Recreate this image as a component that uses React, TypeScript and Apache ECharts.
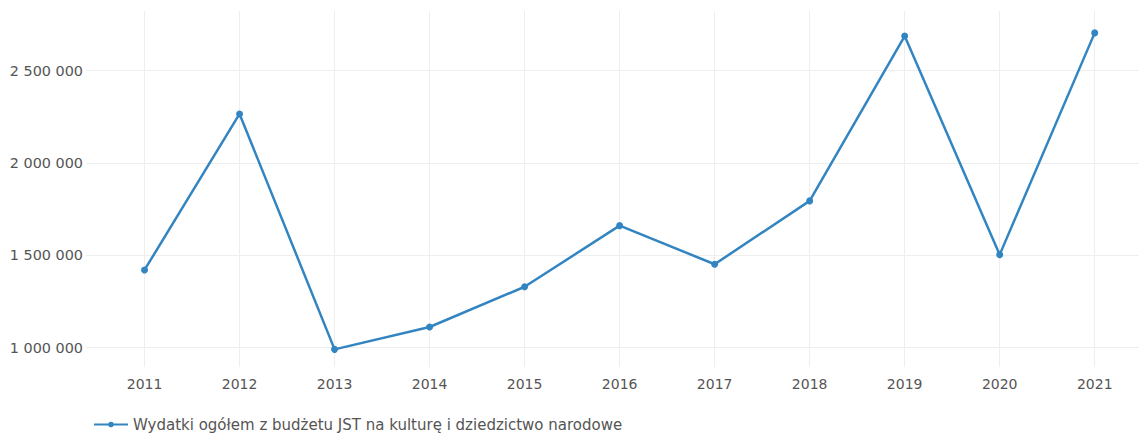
import React, { useEffect, useRef } from 'react';
import * as echarts from 'echarts';

const years = [2011, 2012, 2013, 2014, 2015, 2016, 2017, 2018, 2019, 2020, 2021];
const values = [1420000, 2265000, 990000, 1111000, 1329000, 1660000, 1451000, 1794000, 2687000, 1503000, 2704000];
const seriesName = 'Wydatki ogółem z budżetu JST na kulturę i dziedzictwo narodowe';

const fmt = (v: number) => String(Math.round(v)).replace(/\B(?=(\d{3})+(?!\d))/g, ' ');

export default function App() {
  const ref = useRef<HTMLDivElement>(null);
  useEffect(() => {
    document.body.style.margin = '0';
    const chart = echarts.init(ref.current!, null, { renderer: 'svg' });
    const font = 'Verdana, "DejaVu Sans", sans-serif';
    chart.setOption({
      animation: false,
      textStyle: { fontFamily: font },
      grid: { left: 86, right: 0, top: 11, bottom: 68 },
      legend: {
        left: 88,
        top: 412,
        itemWidth: 34,
        itemHeight: 7,
        itemGap: 10,
        textStyle: { fontSize: 15, color: '#555', fontFamily: font },
        data: [seriesName],
      },
      xAxis: {
        type: 'value',
        min: 2010.384,
        max: 2021.466,
        minInterval: 1,
        maxInterval: 1,
        axisLine: { show: false },
        axisTick: { show: false },
        splitLine: { show: true, showMinLine: false, showMaxLine: false, lineStyle: { color: '#eeeeee', width: 1 } },
        axisLabel: {
          showMinLabel: false,
          showMaxLabel: false,
          formatter: (v: number) => String(v),
          margin: 10,
          fontSize: 14,
          color: '#555',
          fontFamily: font,
        },
      },
      yAxis: {
        type: 'value',
        min: 894400,
        max: 2822500,
        minInterval: 500000,
        maxInterval: 500000,
        axisLine: { show: false },
        axisTick: { show: false },
        splitLine: { show: true, showMinLine: false, showMaxLine: false, lineStyle: { color: '#eeeeee', width: 1 } },
        axisLabel: {
          showMinLabel: false,
          showMaxLabel: false,
          formatter: (v: number) => fmt(v),
          margin: 3,
          fontSize: 14.4,
          color: '#555',
          fontFamily: font,
        },
      },
      series: [
        {
          name: seriesName,
          type: 'line',
          data: years.map((y, i) => [y, values[i]]),
          symbol: 'circle',
          symbolSize: 7,
          itemStyle: { color: '#3385c2' },
          lineStyle: { color: '#3385c2', width: 2.5 },
        },
      ],
    });
    return () => chart.dispose();
  }, []);
  return <div ref={ref} style={{ width: 1139, height: 435 }} />;
}
